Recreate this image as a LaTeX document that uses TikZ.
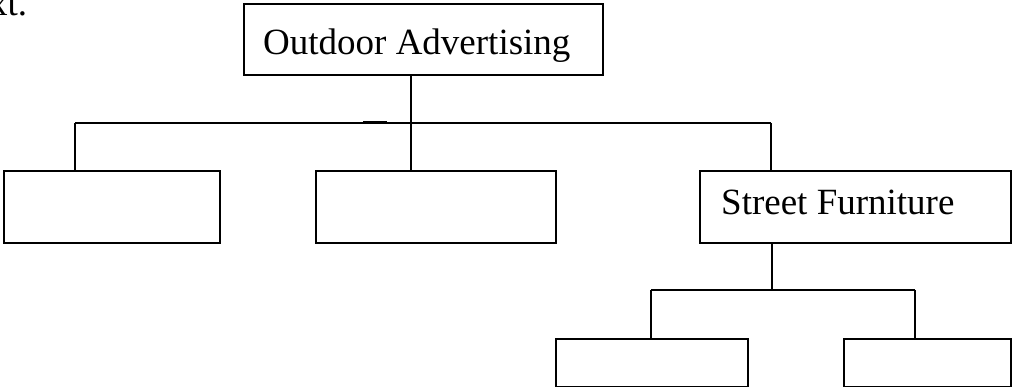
\documentclass[tikz,border=0pt]{standalone}
\usepackage{fontspec}
\setmainfont{Liberation Serif}
\begin{document}
\begin{tikzpicture}[x=1pt,y=-1pt,
  box/.style={draw=black,line width=2.2pt,inner sep=0pt,anchor=north west},
  conn/.style={draw=black,line width=1.7pt},
  lbl/.style={anchor=base west,inner sep=0pt,font=\fontsize{37}{40}\selectfont}]
\useasboundingbox (0,0) rectangle (1012,387);
% cut-off text at top left
\node[lbl] (prev) at (-11,16) {xt.};
% boxes
\node[box,minimum width=359pt,minimum height=71pt] (top) at (243,3) {};
\node[box,minimum width=216pt,minimum height=72pt] (b1) at (3,170) {};
\node[box,minimum width=240pt,minimum height=72pt] (b2) at (315,170) {};
\node[box,minimum width=311pt,minimum height=72pt] (sf) at (699,170) {};
\node[box,minimum width=192pt,minimum height=48pt] (b4) at (555,338) {};
\node[box,minimum width=167pt,minimum height=48pt] (b5) at (843,338) {};
% texts
\node[lbl] (toptext) at (263,55) {Outdoor Advertising};
\node[lbl] (sftext) at (721,215) {Street Furniture};
% junction coordinates
\coordinate (j0) at (411,123);
\coordinate (j1) at (75,123);
\coordinate (j3) at (771,123);
\coordinate (k0) at (772,290);
\coordinate (k1) at (651,290);
\coordinate (k2) at (915,290);
% connectors
\draw[conn] (top.south -| j0) -- (j0);
\draw[conn] (j1) -- (j3);
\draw[conn] (j1) -- (b1.north -| j1);
\draw[conn] (j0) -- (b2.north -| j0);
\draw[conn] (j3) -- (sf.north -| j3);
\draw[conn] (sf.south -| k0) -- (k0);
\draw[conn] (k1) -- (k2);
\draw[conn] (k1) -- (b4.north -| k1);
\draw[conn] (k2) -- (b5.north -| k2);
% small mark on the line
\coordinate (m1) at (363,122.4);
\coordinate (m2) at (387,122.4);
\draw[line width=2.4pt] (m1) -- (m2);
\end{tikzpicture}
\end{document}
